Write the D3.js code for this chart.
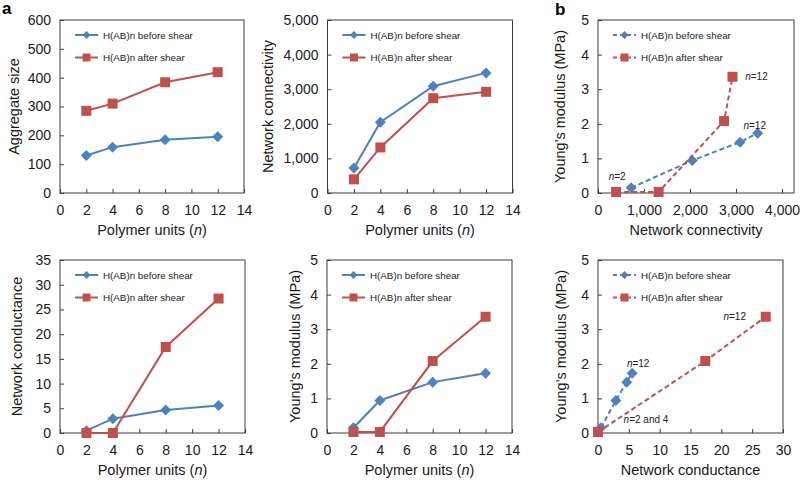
<!DOCTYPE html>
<html><head><meta charset="utf-8">
<script src="https://cdn.jsdelivr.net/npm/d3@7"></script>
<style>
body{margin:0;background:#fff;}
text{font-family:"Liberation Sans",Arial,Helvetica,sans-serif;}
</style>
</head><body>
<svg id="c" width="800" height="480"></svg>
<script>
// ---------- data ----------
const nUnits = [2, 4, 8, 12];
const seriesNames = ["H(AB)n before shear", "H(AB)n after shear"];
const aggBefore = [130, 159, 185, 195];
const aggAfter = [285, 310, 384, 419];
const connBefore = [721, 2048, 3087, 3471];
const connAfter = [394, 1317, 2740, 2923];
const condBefore = [0.47, 2.9, 4.66, 5.54];
const condAfter = [0, 0, 17.4, 27.2];
const modBefore = [0.15, 0.94, 1.47, 1.73];
const modAfter = [0.03, 0.03, 2.08, 3.36];

const xTicksN = [0, 2, 4, 6, 8, 10, 12, 14];
const yTicksAgg = [0, 100, 200, 300, 400, 500, 600];
const yTicksConn = [0, 1000, 2000, 3000, 4000, 5000];
const yTicksCond = [0, 5, 10, 15, 20, 25, 30, 35];
const yTicksMod = [0, 1, 2, 3, 4, 5];
const xTicksConn = [0, 1000, 2000, 3000, 4000];
const xTicksCond = [0, 5, 10, 15, 20, 25, 30];

const BLUE = "#4F81BD", RED = "#C0504D", AX = "#3c3c3c";
const svg = d3.select("#c");

function diamond(r){ return `M0,${-r}L${r},0L0,${r}L${-r},0Z`; }
function square(h){ return `M${-h},${-h}H${h}V${h}H${-h}Z`; }

function panel(cfg){
  const x = d3.scaleLinear().domain(cfg.xDomain).range([cfg.left, cfg.right]);
  const y = d3.scaleLinear().domain(cfg.yDomain).range([cfg.bottom, cfg.top]);
  const g = svg.append("g");

  // x axis
  const xa = g.append("g").attr("transform", `translate(0,${cfg.bottom})`)
    .call(d3.axisBottom(x).tickValues(cfg.xTicks).tickFormat(cfg.xFmt)
      .tickSizeInner(-4).tickSizeOuter(0).tickPadding(12));
  const ya = g.append("g").attr("transform", `translate(${cfg.left},0)`)
    .call(d3.axisLeft(y).tickValues(cfg.yTicks).tickFormat(cfg.yFmt)
      .tickSizeInner(-4).tickSizeOuter(0).tickPadding(9));
  [xa, ya].forEach(a => {
    a.select(".domain").remove();
    a.selectAll("line").attr("stroke", AX);
    a.selectAll("text").attr("font-size", 14).attr("fill", "#1a1a1a")
      .attr("font-family", '"Liberation Sans",Arial,sans-serif');
  });
  // box
  g.append("rect").attr("x", cfg.left).attr("y", cfg.top)
    .attr("width", cfg.right - cfg.left).attr("height", cfg.bottom - cfg.top)
    .attr("fill", "none").attr("stroke", AX).attr("stroke-width", 1);

  // titles
  const xt = g.append("text").attr("x", (cfg.left + cfg.right) / 2).attr("y", cfg.bottom + 42)
    .attr("text-anchor", "middle").attr("font-size", 14.5).attr("fill", "#1a1a1a");
  if (cfg.xTitleItalic) {
    xt.append("tspan").text("Polymer units (");
    xt.append("tspan").attr("font-style", "italic").text("n");
    xt.append("tspan").text(")");
  } else xt.text(cfg.xTitle);
  g.append("text")
    .attr("transform", `translate(${cfg.yTitleX},${(cfg.top + cfg.bottom) / 2}) rotate(-90)`)
    .attr("text-anchor", "middle").attr("font-size", 14.5).attr("fill", "#1a1a1a").text(cfg.yTitle);

  // series
  const dash = cfg.dashed ? "5,3" : null;
  cfg.series.forEach((s, i) => {
    const pts = s.xs.map((xv, k) => [xv, s.ys[k]]);
    g.append("path").datum(pts)
      .attr("d", d3.line().x(d => x(d[0])).y(d => y(d[1])))
      .attr("fill", "none").attr("stroke", s.color).attr("stroke-width", 2)
      .attr("stroke-dasharray", dash);
    g.selectAll(null).data(pts).enter().append("path")
      .attr("transform", d => `translate(${x(d[0])},${y(d[1])})`)
      .attr("d", i === 0 ? diamond(5.5) : square(5))
      .attr("fill", s.color);
  });

  // legend
  const lx = cfg.left + 15, lw = 23;
  seriesNames.forEach((nm, i) => {
    const ly = cfg.top + 15 + i * 22.5;
    const col = i === 0 ? BLUE : RED;
    g.append("line").attr("x1", lx).attr("x2", lx + lw).attr("y1", ly).attr("y2", ly)
      .attr("stroke", col).attr("stroke-width", 2).attr("stroke-dasharray", cfg.dashed ? "4,3" : null);
    g.append("path").attr("transform", `translate(${lx + lw / 2},${ly})`)
      .attr("d", i === 0 ? diamond(4) : square(4)).attr("fill", col);
    g.append("text").attr("x", lx + lw + 5).attr("y", ly + 3.5)
      .attr("font-size", 9.8).attr("fill", "#222").text(nm);
  });

  // annotations
  (cfg.notes || []).forEach(a => {
    const t = g.append("text").attr("x", x(a.at[0]) + a.dx).attr("y", y(a.at[1]) + a.dy)
      .attr("text-anchor", "middle").attr("font-size", 10).attr("fill", "#222");
    t.append("tspan").attr("font-style", "italic").text("n");
    t.append("tspan").text(a.txt);
  });
}

const fmtInt = d3.format("d"), fmtComma = d3.format(",");

panel({left:60, right:244, top:20, bottom:193, xDomain:[0,14], yDomain:[0,600],
  xTicks:xTicksN, yTicks:yTicksAgg, xFmt:fmtInt, yFmt:fmtInt,
  xTitleItalic:true, yTitle:"Aggregate size", yTitleX:18.5,
  series:[{xs:nUnits, ys:aggBefore, color:BLUE},{xs:nUnits, ys:aggAfter, color:RED}]});

panel({left:327.5, right:512.5, top:20, bottom:193, xDomain:[0,14], yDomain:[0,5000],
  xTicks:xTicksN, yTicks:yTicksConn, xFmt:fmtInt, yFmt:fmtComma,
  xTitleItalic:true, yTitle:"Network connectivity", yTitleX:273,
  series:[{xs:nUnits, ys:connBefore, color:BLUE},{xs:nUnits, ys:connAfter, color:RED}]});

panel({left:598, right:794, top:20, bottom:193, xDomain:[0,4260], yDomain:[0,5],
  xTicks:xTicksConn, yTicks:yTicksMod, xFmt:fmtComma, yFmt:fmtInt,
  xTitle:"Network connectivity", yTitle:"Young's modulus (MPa)", yTitleX:565, dashed:true,
  series:[{xs:connBefore, ys:modBefore, color:BLUE},{xs:connAfter, ys:modAfter, color:RED}],
  notes:[{at:[connAfter[0], modAfter[0]], dx:1, dy:-12, txt:"=2"},
         {at:[connAfter[3], modAfter[3]], dx:24, dy:3, txt:"=12"},
         {at:[connBefore[3], modBefore[3]], dx:-3, dy:-4, txt:"=12"}]});

panel({left:60, right:245, top:260, bottom:433, xDomain:[0,14], yDomain:[0,35],
  xTicks:xTicksN, yTicks:yTicksCond, xFmt:fmtInt, yFmt:fmtInt,
  xTitleItalic:true, yTitle:"Network conductance", yTitleX:21.5,
  series:[{xs:nUnits, ys:condBefore, color:BLUE},{xs:nUnits, ys:condAfter, color:RED}]});

panel({left:327, right:512, top:260, bottom:433, xDomain:[0,14], yDomain:[0,5],
  xTicks:xTicksN, yTicks:yTicksMod, xFmt:fmtInt, yFmt:fmtInt,
  xTitleItalic:true, yTitle:"Young's modulus (MPa)", yTitleX:300,
  series:[{xs:nUnits, ys:modBefore, color:BLUE},{xs:nUnits, ys:modAfter, color:RED}]});

panel({left:598, right:783, top:260, bottom:433, xDomain:[0,30], yDomain:[0,5],
  xTicks:xTicksCond, yTicks:yTicksMod, xFmt:fmtInt, yFmt:fmtInt,
  xTitle:"Network conductance", yTitle:"Young's modulus (MPa)", yTitleX:565.5, dashed:true,
  series:[{xs:condBefore, ys:modBefore, color:BLUE},{xs:condAfter, ys:modAfter, color:RED}],
  notes:[{at:[condAfter[3], modAfter[3]], dx:-31, dy:3, txt:"=12"},
         {at:[condBefore[3], modBefore[3]], dx:6, dy:-6, txt:"=12"},
         {at:[condAfter[0], modAfter[0]], dx:48, dy:-9, txt:"=2 and 4"}]});

// panel letters
svg.append("text").attr("x", 2).attr("y", 14).attr("font-size", 17).attr("font-weight", "bold").text("a");
svg.append("text").attr("x", 555).attr("y", 15).attr("font-size", 17).attr("font-weight", "bold").text("b");
</script>
</body></html>
